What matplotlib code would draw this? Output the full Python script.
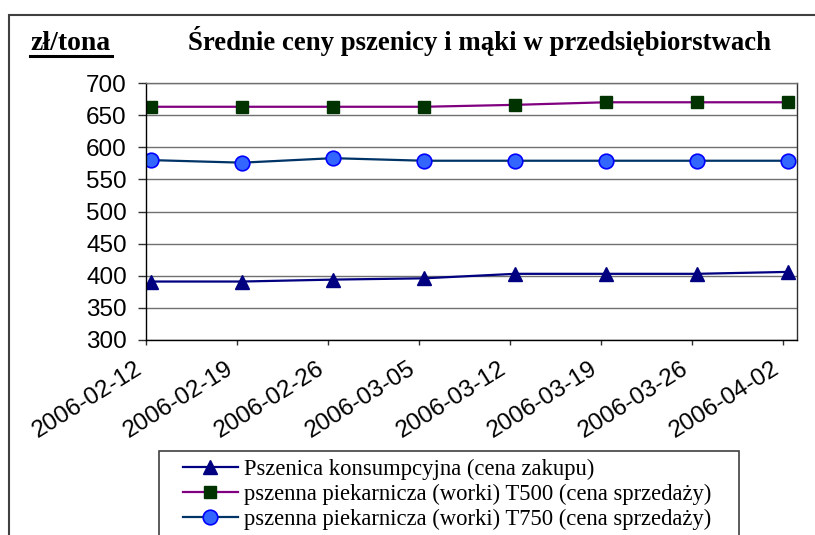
"""
Średnie ceny pszenicy i mąki w przedsiębiorstwach (zł/tona), tygodniowo.
"""

import numpy as np
import matplotlib.pyplot as plt
from matplotlib.patches import Rectangle
from matplotlib.lines import Line2D

dates = ['2006-02-12', '2006-02-19', '2006-02-26', '2006-03-05',
         '2006-03-12', '2006-03-19', '2006-03-26', '2006-04-02']

pszenica = [391, 391, 394, 396, 403, 403, 403, 406]
t500 = [663, 663, 663, 663, 666, 670, 670, 670]
t750 = [580, 576, 583, 579, 579, 579, 579, 579]

labels = ['Pszenica konsumpcyjna (cena zakupu)',
          'pszenna piekarnicza (worki) T500 (cena sprzedaży)',
          'pszenna piekarnicza (worki) T750 (cena sprzedaży)']

W, H = 815, 535
fig = plt.figure(figsize=(W / 100, H / 100), dpi=100)

# plot area in pixels: x 146..797, y 83..340
ax = fig.add_axes([146 / W, 1 - 340 / H, (797 - 146) / W, (340 - 83) / H])

x = np.arange(len(dates))
shift = 0.055  # markers sit a touch right of the date ticks

ax.plot(x + shift, pszenica, color='#000080', linewidth=1.6,
        marker='^', markersize=10.5, markerfacecolor='#000080', markeredgecolor='#000080')
ax.plot(x + shift, t500, color='#800080', linewidth=1.6,
        marker='s', markersize=8, markerfacecolor='#003300', markeredgecolor='#003300')
ax.plot(x + shift, t750, color='#003366', linewidth=1.6,
        marker='o', markersize=10.5, markerfacecolor='#3366FF', markeredgecolor='#0000FF',
        markeredgewidth=1.2)

ax.set_xlim(0, 7.154)
ax.set_ylim(300, 700)
ax.set_yticks(range(300, 701, 50))
ax.set_xticks(x)
ax.set_xticklabels(dates, rotation=32, ha='right', rotation_mode='default')

ax.grid(axis='y', color='#707070', linewidth=1.0)
ax.set_axisbelow(True)

for lab in ax.get_yticklabels():
  lab.set_fontfamily('Liberation Sans')
  lab.set_fontsize(17.5)
for lab in ax.get_xticklabels():
  lab.set_fontfamily('Liberation Sans')
  lab.set_fontsize(17.5)

ax.tick_params(axis='y', direction='out', length=5.8, width=1, pad=8, color='#303030')
ax.tick_params(axis='x', direction='out', length=3.6, width=1, pad=9, color='#303030')

ax.spines['left'].set_color('black')
ax.spines['bottom'].set_color('black')
ax.spines['top'].set_color('#707070')
ax.spines['right'].set_color('#303030')
for s in ax.spines.values():
  s.set_linewidth(1.0)

# outer chart frame (runs off the right and bottom edge)
fig.patches.append(Rectangle((9 / W, -0.1), 1.2, 1.1 - 15 / H, transform=fig.transFigure,
                             fill=False, edgecolor='#404040', linewidth=1.5))

fig.text(30 / W, 1 - 50 / H, 'zł/tona', fontfamily='Liberation Serif', fontweight='bold',
         fontsize=20, va='baseline', ha='left')
fig.add_artist(Line2D([30 / W, 112 / W], [1 - 56 / H, 1 - 56 / H], color='black',
                      linewidth=2.2, transform=fig.transFigure))
fig.text(188 / W, 1 - 50 / H, 'Średnie ceny pszenicy i mąki w przedsiębiorstwach',
         fontfamily='Liberation Serif', fontweight='bold', fontsize=19.3, va='baseline', ha='left')

# legend, its frame runs off the bottom edge
handles = ax.get_lines()
leg = fig.legend(handles, labels, loc='upper left', bbox_to_anchor=(172 / W, 1 - 447 / H),
                 frameon=False, prop={'family': 'Liberation Serif', 'size': 16.3},
                 handlelength=2.4, handletextpad=0.3, labelspacing=0.18, borderpad=0)
fig.patches.append(Rectangle((159 / W, -0.1), (739 - 159) / W, 0.1 + 1 - 451 / H,
                             transform=fig.transFigure, fill=False, edgecolor='#404040',
                             linewidth=1.2))

plt.savefig('out.png', dpi=100)
